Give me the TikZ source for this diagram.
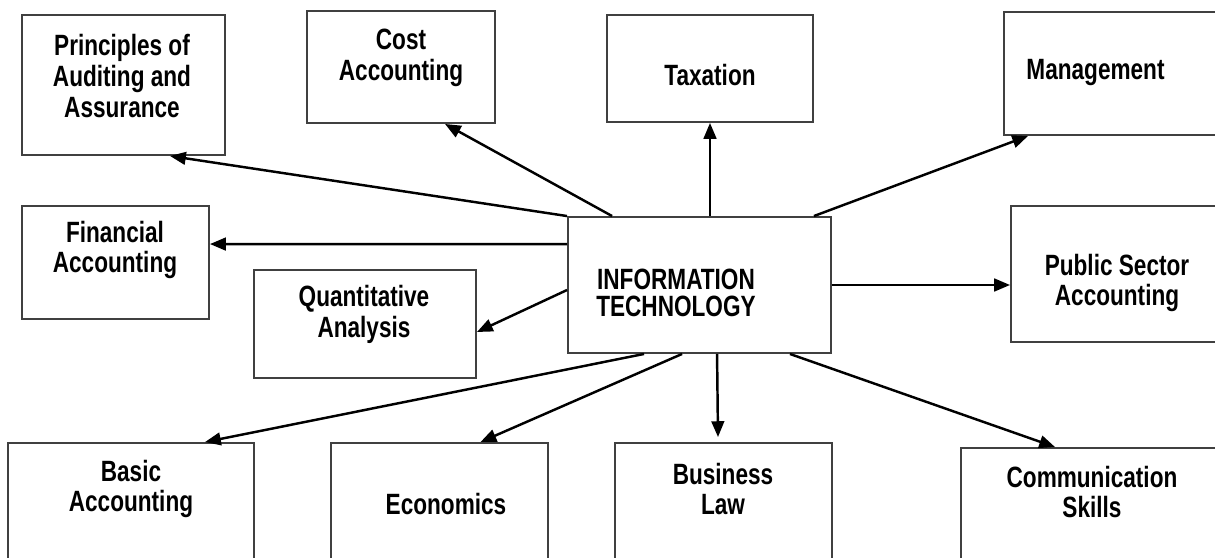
\documentclass[tikz,border=0pt]{standalone}
\usepackage{fontspec}
\setmainfont{Liberation Sans}[FakeStretch=0.77]
\usepackage{tikz}
\usetikzlibrary{calc}
\usetikzlibrary{arrows.meta}
\tikzset{
	subject/.style={draw=black!75, line width=1.1pt, rectangle, inner sep=0pt},
	caption/.style={font=\bfseries\fontsize{16.7}{17.6}\selectfont, align=center, inner sep=0pt},
	feed/.style={line width=1.4pt, -{Triangle[length=9pt,width=7.2pt]}}
}

\begin{document}
\begin{tikzpicture}[x=0.02cm,y=-0.02cm]
		\useasboundingbox (0,0) rectangle (1215,558);
		\clip (0,0) rectangle (1215,558);
		% boxes
		\node [subject, minimum width=4.06cm, minimum height=2.8cm] (aud) at (123.5,85) {};
		\node [subject, minimum width=3.76cm, minimum height=2.24cm] (cost) at (401,67) {};
		\node [subject, minimum width=4.12cm, minimum height=2.14cm] (tax) at (710,68.5) {};
		\node [subject, minimum width=4.48cm, minimum height=2.46cm] (mgmt) at (1116,73.5) {};
		\node [subject, minimum width=3.74cm, minimum height=2.26cm] (fin) at (115.5,262.5) {};
		\node [subject, minimum width=4.44cm, minimum height=2.16cm] (quant) at (365,324) {};
		\node [subject, minimum width=5.26cm, minimum height=2.72cm] (it) at (699.5,285) {};
		\node [subject, minimum width=4.28cm, minimum height=2.72cm] (pub) at (1118,274) {};
		\node [subject, minimum width=4.92cm, minimum height=2.54cm] (basic) at (131,506.5) {};
		\node [subject, minimum width=4.34cm, minimum height=2.54cm] (econ) at (439.5,506.5) {};
		\node [subject, minimum width=4.34cm, minimum height=2.54cm] (law) at (723.5,506.5) {};
		\node [subject, minimum width=5.28cm, minimum height=2.44cm] (comm) at (1093,509) {};
		% texts
		\node [caption] (aud-t) at (122,76) {Principles of\\Auditing and\\Assurance};
		\node [caption] (cost-t) at (401,58) {Cost\\Accounting};
		\node [caption] (tax-t) at (710,75) {Taxation};
		\node [caption] (mgmt-t) at (1095.5,73) {Management};
		\node [caption] (fin-t) at (115,250) {Financial\\Accounting};
		\node [caption] (quant-t) at (364,314) {Quantitative\\Analysis};
		\node [caption, font=\bfseries\fontsize{16.7}{15.4}\selectfont] (it-t) at (676,293) {INFORMATION\\TECHNOLOGY};
		\node [caption] (pub-t) at (1117,283) {Public Sector\\Accounting};
		\node [caption] (basic-t) at (131,489) {Basic\\Accounting};
		\node [caption] (econ-t) at (446,504) {Economics};
		\node [caption] (law-t) at (723,489) {Business\\Law};
		\node [caption] (comm-t) at (1092,492) {Communication\\Skills};
		% arrows
		\draw [feed] (it.north west) -- ($(aud.south)+(46.5,0)$);
		\draw [feed] ($(it.north west)+(45,0)$) -- ($(cost.south)+(44,0)$);
		\draw [feed] (tax.south |- it.north) -- (tax.south);
		\draw [feed] ($(it.north east)+(-18,0)$) -- ($(mgmt.south west)+(25,0)$);
		\draw [feed] ($(it.north west)+(0,28)$) -- ($(fin.north east)+(0,39)$);
		\draw [feed] ($(it.west)+(0,5)$) -- ($(quant.east)+(0,8)$);
		\draw [feed] (it.east) -- (pub.west |- it.east);
		\draw [feed] ($(it.south west)+(77,0)$) -- ($(basic.north)+(74,0)$);
		\draw [feed] ($(it.south west)+(115,0)$) -- ($(econ.north)+(41,0)$);
		\draw [feed] ($(it.south west)+(150,0)$) -- ($(law.north)+(-5.5,-5)$);
		\draw [feed] ($(it.south east)+(-42,0)$) -- ($(comm.north west)+(95,0)$);
	\end{tikzpicture}
\end{document}
